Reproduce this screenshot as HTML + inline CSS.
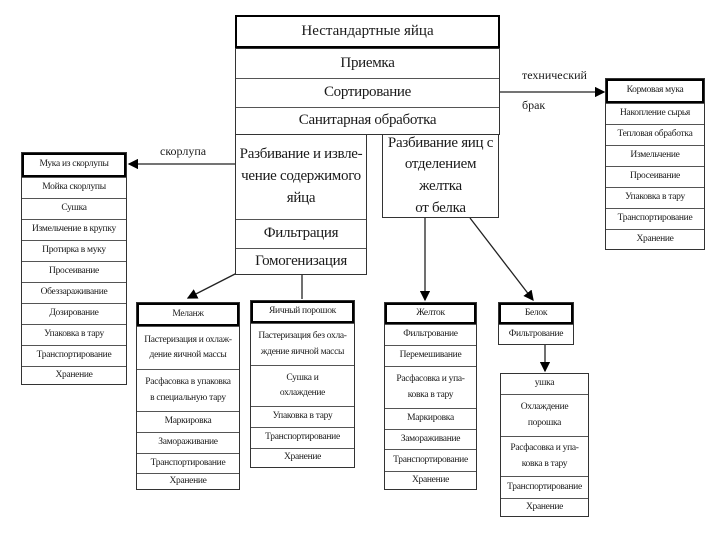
<!DOCTYPE html>
<html><head><meta charset="utf-8"><style>
body{margin:0;width:720px;height:540px;background:#fff;position:relative;overflow:hidden;font-family:"Liberation Serif",serif;color:#1a1a1a}
.b{position:absolute;border:1px solid #333;box-sizing:border-box;background:#fff}
.r{border-top:1px solid #555;display:flex;align-items:center;justify-content:center;text-align:center;box-sizing:border-box;line-height:1.05;letter-spacing:-0.3px}
.r:first-child{border-top:none}
.t{border:2px solid #000!important}
.s{font-size:9.5px}
.m{font-size:15px}
.lbl{position:absolute;font-size:12px}
svg{position:absolute;left:0;top:0}
</style></head><body>
<svg width="720" height="540">
<defs><marker id="a" markerWidth="8" markerHeight="8" refX="7" refY="4" orient="auto"><path d="M0,0 L8,4 L0,8z" fill="#000"/></marker></defs>
<g stroke="#222" stroke-width="1.3" fill="none">
<line x1="499" y1="92" x2="604" y2="92" marker-end="url(#a)"/>
<line x1="235" y1="164" x2="129" y2="164" marker-end="url(#a)"/>
<line x1="237" y1="273" x2="188" y2="298" marker-end="url(#a)"/>
<line x1="302" y1="275" x2="302" y2="299"/>
<line x1="425" y1="218" x2="425" y2="300" marker-end="url(#a)"/>
<line x1="470" y1="218" x2="533" y2="300" marker-end="url(#a)"/>
<line x1="545" y1="345" x2="545" y2="371" marker-end="url(#a)"/>
</g></svg>

<!-- main column -->
<div class="b t m" style="left:235px;top:15px;width:265px;height:33px;display:flex;align-items:center;justify-content:center">Нестандартные яйца</div>
<div class="b m" style="left:235px;top:48px;width:265px;height:87px">
<div class="r" style="height:29px">Приемка</div>
<div class="r" style="height:29px">Сортирование</div>
<div class="r" style="height:27px">Санитарная обработка</div>
</div>
<div class="b m" style="left:235px;top:134px;width:132px;height:141px">
<div class="r" style="height:84px;line-height:1.45">Разбивание и извле-<br>чение содержимого<br>яйца</div>
<div class="r" style="height:29px">Фильтрация</div>
<div class="r" style="height:26px">Гомогенизация</div>
</div>
<div class="b m" style="left:382px;top:134px;width:117px;height:84px">
<div class="r" style="height:82px;line-height:1.45">Разбивание яиц с<br>отделением желтка<br>от белка</div>
</div>
<div class="lbl" style="left:522px;top:68px">технический<br><br>брак</div>
<div class="lbl" style="left:160px;top:144px">скорлупа</div>

<!-- Мука из скорлупы -->
<div class="b s" style="left:21px;top:152px;width:106px;height:233px">
<div class="r t" style="height:24px">Мука из скорлупы</div>
<div class="r" style="height:21px">Мойка скорлупы</div>
<div class="r" style="height:21px">Сушка</div>
<div class="r" style="height:21px">Измельчение в крупку</div>
<div class="r" style="height:21px">Протирка в муку</div>
<div class="r" style="height:21px">Просеивание</div>
<div class="r" style="height:21px">Обеззараживание</div>
<div class="r" style="height:21px">Дозирование</div>
<div class="r" style="height:21px">Упаковка в тару</div>
<div class="r" style="height:21px">Транспортирование</div>
<div class="r" style="height:18px">Хранение</div>
</div>

<!-- Меланж -->
<div class="b s" style="left:136px;top:302px;width:104px;height:188px">
<div class="r t" style="height:23px">Меланж</div>
<div class="r" style="height:43px;line-height:1.6">Пастеризация и охлаж-<br>дение яичной массы</div>
<div class="r" style="height:42px;line-height:1.6">Расфасовка в упаковка<br>в специальную тару</div>
<div class="r" style="height:21px">Маркировка</div>
<div class="r" style="height:21px">Замораживание</div>
<div class="r" style="height:20px">Транспортирование</div>
<div class="r" style="height:16px">Хранение</div>
</div>

<!-- Яичный порошок -->
<div class="b s" style="left:250px;top:300px;width:105px;height:168px">
<div class="r t" style="height:22px">Яичный порошок</div>
<div class="r" style="height:42px;line-height:1.6">Пастеризация без охла-<br>ждение яичной массы</div>
<div class="r" style="height:41px;line-height:1.6">Сушка и<br>охлаждение</div>
<div class="r" style="height:21px">Упаковка в тару</div>
<div class="r" style="height:21px">Транспортирование</div>
<div class="r" style="height:19px">Хранение</div>
</div>

<!-- Желток -->
<div class="b s" style="left:384px;top:302px;width:93px;height:188px">
<div class="r t" style="height:21px">Желток</div>
<div class="r" style="height:21px">Фильтрование</div>
<div class="r" style="height:21px">Перемешивание</div>
<div class="r" style="height:42px;line-height:1.6">Расфасовка и упа-<br>ковка в тару</div>
<div class="r" style="height:21px">Маркировка</div>
<div class="r" style="height:20px">Замораживание</div>
<div class="r" style="height:22px">Транспортирование</div>
<div class="r" style="height:18px">Хранение</div>
</div>

<!-- Белок -->
<div class="b s" style="left:498px;top:302px;width:76px;height:43px">
<div class="r t" style="height:21px">Белок</div>
<div class="r" style="height:20px">Фильтрование</div>
</div>
<div class="b s" style="left:500px;top:373px;width:89px;height:144px">
<div class="r" style="height:20px">ушка</div>
<div class="r" style="height:42px;line-height:1.6">Охлаждение<br>порошка</div>
<div class="r" style="height:40px;line-height:1.6">Расфасовка и упа-<br>ковка в тару</div>
<div class="r" style="height:22px">Транспортирование</div>
<div class="r" style="height:18px">Хранение</div>
</div>

<!-- Кормовая мука -->
<div class="b s" style="left:605px;top:78px;width:100px;height:172px">
<div class="r t" style="height:24px">Кормовая мука</div>
<div class="r" style="height:21px">Накопление сырья</div>
<div class="r" style="height:21px">Тепловая обработка</div>
<div class="r" style="height:21px">Измельчение</div>
<div class="r" style="height:21px">Просеивание</div>
<div class="r" style="height:21px">Упаковка в тару</div>
<div class="r" style="height:21px">Транспортирование</div>
<div class="r" style="height:20px">Хранение</div>
</div>
</body></html>
